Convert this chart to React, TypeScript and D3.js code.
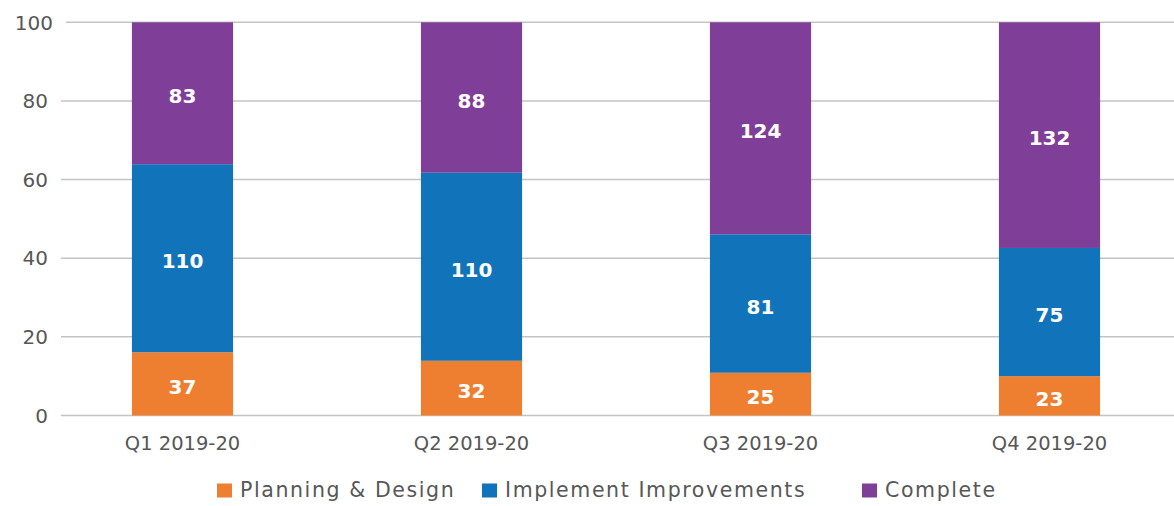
import React from "react";
import * as d3 from "d3";

const categories = ["Q1 2019-20", "Q2 2019-20", "Q3 2019-20", "Q4 2019-20"];
const seriesNames = ["Planning & Design", "Implement Improvements", "Complete"];
const planningDesign = [37, 32, 25, 23];
const implementImprovements = [110, 110, 81, 75];
const complete = [83, 88, 124, 132];
const yTicks = [0, 20, 40, 60, 80, 100];
const colors = ["#EE7F31", "#1174BB", "#7F3E97"];

const W = 1174;
const H = 506;
const FONT = "'DejaVu Sans', sans-serif";
const TEXT = "#575757";

export default function App() {
  const rows = categories.map((c, i) => ({
    cat: c,
    s0: planningDesign[i],
    s1: implementImprovements[i],
    s2: complete[i],
  }));
  const keys = ["s0", "s1", "s2"];
  const raw = [planningDesign, implementImprovements, complete];
  const stacked = d3.stack<any>().keys(keys).offset(d3.stackOffsetExpand)(rows as any);

  const y = d3.scaleLinear().domain([0, 100]).range([415.5, 22.3]);
  const x = d3
    .scaleBand<string>()
    .domain(categories)
    .range([38, 1194])
    .paddingInner(0.65)
    .paddingOuter(0.325);

  const legendX = [217, 482, 862];

  return (
    <svg
      width={W}
      height={H}
      style={{ position: "absolute", left: 0, top: 0, background: "#fff" }}
      fontFamily={FONT}
    >
      {yTicks.map((t) => (
        <g key={t}>
          <line
            x1={t === 100 ? 66 : 61}
            x2={W}
            y1={y(t)}
            y2={y(t)}
            stroke="#C4C4C4"
            strokeWidth={1.5}
          />
          <text
            x={t === 100 ? 53 : 48}
            y={y(t)}
            dy="0.36em"
            textAnchor="end"
            fontSize={20}
            fill={TEXT}
          >
            {t}
          </text>
        </g>
      ))}
      {stacked.map((layer, si) => (
        <g key={layer.key} fill={colors[si]}>
          {layer.map((d, i) => (
            <rect
              key={i}
              x={x(categories[i])!}
              width={x.bandwidth()}
              y={y(d[1] * 100)}
              height={y(d[0] * 100) - y(d[1] * 100)}
            />
          ))}
        </g>
      ))}
      {stacked.map((layer, si) => (
        <g key={"l" + layer.key}>
          {layer.map((d, i) => (
            <text
              key={i}
              x={x(categories[i])! + x.bandwidth() / 2}
              y={(y(d[0] * 100) + y(d[1] * 100)) / 2}
              dy="0.5em"
              textAnchor="middle"
              fontSize={20}
              fontWeight="bold"
              fill="#fff"
            >
              {raw[si][i]}
            </text>
          ))}
        </g>
      ))}
      {categories.map((c) => (
        <text
          key={c}
          x={x(c)! + x.bandwidth() / 2}
          y={450}
          textAnchor="middle"
          fontSize={19.5}
          fill={TEXT}
        >
          {c}
        </text>
      ))}
      {seriesNames.map((n, i) => (
        <g key={n} transform={`translate(${legendX[i]},0)`}>
          <rect x={0} y={483.5} width={15} height={14} fill={colors[i]} />
          <text x={23} y={497} fontSize={20.5} letterSpacing={1.6} fill={TEXT}>
            {n}
          </text>
        </g>
      ))}
    </svg>
  );
}
